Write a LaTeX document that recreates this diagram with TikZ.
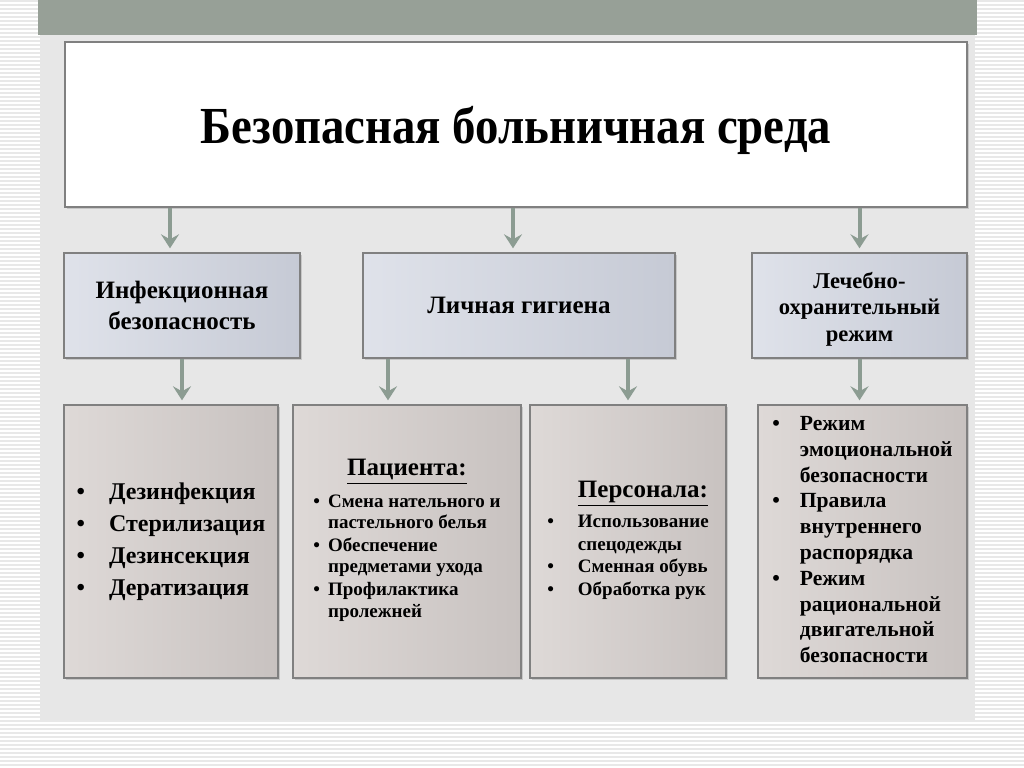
\documentclass[tikz,border=0pt]{standalone}
\usepackage{fontspec}
\setmainfont{Liberation Serif}
\newfontfamily\titlefont[FakeStretch=0.9]{Liberation Serif}
\usetikzlibrary{arrows.meta,shadows}

\definecolor{barcol}{HTML}{97A097}
\definecolor{arrcol}{HTML}{8C9C92}
\definecolor{panelcol}{HTML}{E7E7E7}
\definecolor{stripecol}{HTML}{E8E8E8}
\definecolor{blueL}{HTML}{DFE2EA}
\definecolor{blueD}{HTML}{C6CAD5}
\definecolor{brownL}{HTML}{DED9D7}
\definecolor{brownD}{HTML}{C8C2C0}
\definecolor{edgecol}{HTML}{808080}

\begin{document}
\begin{tikzpicture}[
  x=0.5pt, y=-0.5pt,
  font=\bfseries,
  box/.style={draw=edgecol, line width=0.7pt, inner sep=2pt, align=center,
    drop shadow={shadow xshift=1pt, shadow yshift=-1pt, opacity=0.3}},
  titlebox/.style={box, fill=white, minimum width=451pt, minimum height=82.5pt,
    font=\titlefont\bfseries\fontsize{26}{30}\selectfont},
  topic/.style={box, left color=blueL, right color=blueD, minimum height=52.5pt},
  detail/.style={box, left color=brownL, right color=brownD, minimum height=136.5pt},
  arrow/.style={-{Stealth[length=7pt, width=9pt, inset=2.5pt]}, line width=2pt,
    draw=arrcol, shorten >=2pt},
]
\useasboundingbox (0,0) rectangle (1024,767);

% Striped margin, dotted panel and the bar on top.
\foreach \y in {1,5,...,767}
  \draw[stripecol, line width=1pt] (0,\y) -- (1024,\y);
\fill[panelcol] (40,35) rectangle (975,720);
\fill[barcol] (38,0) rectangle (977,35);

% Title.
\node[titlebox] (title) at (516,124.5)
  {\raisebox{-3pt}[\height][\depth]{Безопасная больничная среда}};

% The three topics.
\node[topic, minimum width=118pt, font=\bfseries\fontsize{12.5}{15.5}\selectfont]
  (infect) at (182,305.5) {Инфекционная\\безопасность};
\node[topic, minimum width=156pt, font=\bfseries\fontsize{12.5}{15.5}\selectfont]
  (hyg) at (519,305.5) {Личная гигиена};
\node[topic, minimum width=107.5pt, font=\bfseries\fontsize{11.3}{13.3}\selectfont]
  (regime) at (859.5,305.5) {\raisebox{-2pt}[\height][\depth]{%
    \begin{tabular}{@{}c@{}}Лечебно-\\охранительный\\режим\end{tabular}}};

% Details, left to right.
\node[detail, minimum width=107pt] (disinf) at (171,541.5) {%
  \fontsize{12}{16}\selectfont
  \begin{tabular}{@{}c@{\hspace{12pt}}l@{}}
    \textbullet & Дезинфекция\\
    \textbullet & Стерилизация\\
    \textbullet & Дезинсекция\\
    \textbullet & Дератизация
  \end{tabular}};
\node[detail, minimum width=114pt] (patient) at (407,541.5) {%
  \fontsize{9.5}{10.6}\selectfont
  \begin{tabular}{@{}c@{\hspace{4pt}}l@{}}
    \multicolumn{2}{c}{\fontsize{12.5}{14}\selectfont\underline{Пациента:}}\\[5pt]
    \textbullet & Смена нательного и\\
                & пастельного белья\\[1pt]
    \textbullet & Обеспечение\\
                & предметами ухода\\[1pt]
    \textbullet & Профилактика\\
                & пролежней
  \end{tabular}};
\node[detail, minimum width=98pt] (staff) at (628,541.5) {%
  \fontsize{9.5}{11.3}\selectfont
  \begin{tabular}{@{}c@{\hspace{12pt}}l@{}}
    & \fontsize{12.5}{14}\selectfont\underline{Персонала:}\\[4pt]
    \textbullet & Использование\\
                & спецодежды\\
    \textbullet & Сменная обувь\\
    \textbullet & Обработка рук
  \end{tabular}};
\node[detail, minimum width=104.5pt] (rules) at (862.5,541.5) {%
  \fontsize{10.8}{12.9}\selectfont
  \begin{tabular}{@{}c@{\hspace{10pt}}l@{}}
    \textbullet & Режим\\
                & эмоциональной\\
                & безопасности\\
    \textbullet & Правила\\
                & внутреннего\\
                & распорядка\\
    \textbullet & Режим\\
                & рациональной\\
                & двигательной\\
                & безопасности
  \end{tabular}};

% Connectors.
\draw[arrow] ([xshift=-6pt]infect.north |- title.south) -- ([xshift=-6pt]infect.north);
\draw[arrow] ([xshift=-3pt]hyg.north |- title.south) -- ([xshift=-3pt]hyg.north);
\draw[arrow] (regime.north |- title.south) -- (regime.north);
\draw[arrow] (infect.south) -- (infect.south |- disinf.north);
\draw[arrow] ([xshift=-9.5pt]patient.north |- hyg.south) -- ([xshift=-9.5pt]patient.north);
\draw[arrow] (staff.north |- hyg.south) -- (staff.north);
\draw[arrow] (regime.south) -- (regime.south |- rules.north);

\end{tikzpicture}
\end{document}
